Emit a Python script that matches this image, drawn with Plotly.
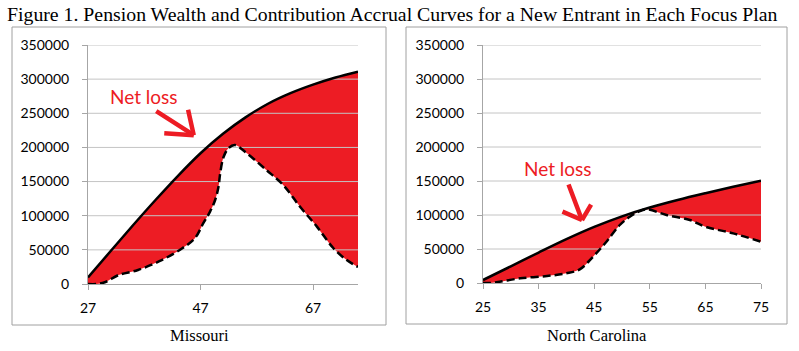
import plotly.graph_objects as go

# ---------------- data ----------------
title_text = "Figure 1. Pension Wealth and Contribution Accrual Curves for a New Entrant in Each Focus Plan"
panel_names = ["Missouri", "North Carolina"]

mo_age_w = [27, 31, 35, 39, 43, 47, 51, 55, 59, 63, 67, 71, 75]
mo_wealth = [9500, 48000, 86000, 123000, 158500, 191500, 220000, 244000, 264000, 279500, 292000, 302500, 311000]
mo_age_c = [27, 28.5, 30, 32.4, 35.9, 40.1, 43.7, 46, 47.5, 48.7, 49.6, 50.2, 50.5, 51.1, 52, 53.1, 55, 58.7, 61.7, 64.7, 67.7, 70.6, 73, 75]
mo_accrual = [0, 0, 2500, 13000, 20500, 35000, 52000, 67000, 89000, 106000, 123000, 142500, 162000, 186000, 199000, 203500, 193000, 167000, 145000, 113000, 84000, 52700, 35000, 25000]

nc_age_w = [25, 30, 35, 40, 45, 50, 55, 60, 65, 70, 75]
nc_wealth = [4400, 24500, 44800, 64500, 82500, 98000, 111000, 122000, 132000, 141500, 150500]
nc_age_c = [25, 26.3, 28, 31.7, 36.5, 40, 42.4, 44.8, 47.2, 49.6, 51.4, 53, 54.4, 58, 62.2, 65, 70, 75]
nc_accrual = [0, 0, 1900, 6900, 10300, 14200, 20100, 38700, 60700, 85300, 97500, 105000, 108400, 100000, 92600, 82800, 73000, 60700]

y_ticks = [0, 50000, 100000, 150000, 200000, 250000, 300000, 350000]
mo_xticks = [27, 47, 67]
nc_xticks = [25, 35, 45, 55, 65, 75]
mo_xrange = [27, 75]
nc_xrange = [25, 75]

RED = "#ED1C24"
GRID = "#c4c4c4"
AXIS = "#a6a6a6"
SM = 1.0

fig = go.Figure()

def add_panel(ax, ay, age_w, wealth, age_c, accrual, xr):
    # fill between curves
    fig.add_trace(go.Scatter(x=age_c, y=accrual, mode="lines", line=dict(width=0, color=RED, shape="spline", smoothing=SM),
                             xaxis=ax, yaxis=ay, showlegend=False, hoverinfo="skip"))
    fig.add_trace(go.Scatter(x=age_w, y=wealth, mode="lines", line=dict(width=0, color=RED, shape="spline", smoothing=SM),
                             fill="tonexty", fillcolor=RED,
                             xaxis=ax, yaxis=ay, showlegend=False, hoverinfo="skip"))
    # gridlines drawn over the fill
    gx, gy = [], []
    for t in y_ticks[1:]:
        gx += [xr[0], xr[1], None]
        gy += [t, t, None]
    fig.add_trace(go.Scatter(x=gx, y=gy, mode="lines", line=dict(width=1, color=GRID),
                             xaxis=ax, yaxis=ay, showlegend=False, hoverinfo="skip"))
    # curves
    fig.add_trace(go.Scatter(x=age_c, y=accrual, mode="lines",
                             line=dict(width=2.5, color="black", dash="8px,4px", shape="spline", smoothing=SM),
                             xaxis=ax, yaxis=ay, showlegend=False))
    fig.add_trace(go.Scatter(x=age_w, y=wealth, mode="lines",
                             line=dict(width=2.5, color="black", shape="spline", smoothing=SM),
                             xaxis=ax, yaxis=ay, showlegend=False))

add_panel("x", "y", mo_age_w, mo_wealth, mo_age_c, mo_accrual, mo_xrange)
add_panel("x2", "y2", nc_age_w, nc_wealth, nc_age_c, nc_accrual, nc_xrange)

W, H = 799, 351
def px(x): return x / W
def py(y): return 1 - y / H

tickfont = dict(family="Lato, Liberation Sans, sans-serif", size=14, color="#000000")
common_x = dict(showgrid=False, showline=True, linecolor=AXIS, linewidth=1, ticks="outside",
                ticklen=5, tickcolor=AXIS, tickfont=tickfont, zeroline=False, fixedrange=True,
                ticklabelstandoff=6, automargin=False)
common_y = dict(range=[0, 350000], tickvals=y_ticks, tickformat="d", showgrid=False,
                showline=True, linecolor=AXIS, linewidth=1, ticks="outside", ticklen=5,
                tickcolor=AXIS, tickfont=tickfont, zeroline=False, fixedrange=True,
                ticklabelstandoff=10, automargin=False)

fig.update_layout(
    width=W, height=H, margin=dict(l=0, r=0, t=0, b=0, autoexpand=False),
    paper_bgcolor="white", plot_bgcolor="white",
    xaxis=dict(domain=[px(88), px(358)], range=mo_xrange, tickvals=mo_xticks, anchor="y", **common_x),
    yaxis=dict(domain=[py(284), py(45)], anchor="x", **common_y),
    xaxis2=dict(domain=[px(483), px(761)], range=nc_xrange, tickvals=nc_xticks, anchor="y2", **common_x),
    yaxis2=dict(domain=[py(283), py(45)], anchor="x2", **common_y),
)

# panel boxes
for (x0, x1, y0, y1) in [(12, 386, 27, 325), (406, 787, 27, 324)]:
    fig.add_shape(type="rect", xref="paper", yref="paper", x0=px(x0), x1=px(x1), y0=py(y1), y1=py(y0),
                  line=dict(color="#a0a0a0", width=1), fillcolor="rgba(0,0,0,0)", layer="below")

serif = "Liberation Serif, Times New Roman, serif"
fig.add_annotation(text=title_text, xref="paper", yref="paper", x=px(5), y=py(14), xanchor="left",
                   yanchor="middle", showarrow=False, font=dict(family=serif, size=19.8, color="black"))
fig.add_annotation(text=panel_names[0], xref="paper", yref="paper", x=px(199), y=py(335), xanchor="center",
                   yanchor="middle", showarrow=False, font=dict(family=serif, size=16.5, color="black"))
fig.add_annotation(text=panel_names[1], xref="paper", yref="paper", x=px(597), y=py(335), xanchor="center",
                   yanchor="middle", showarrow=False, font=dict(family=serif, size=16.5, color="black"))

# "Net loss" labels and hand-drawn arrows
labfont = dict(family="Lato, Liberation Sans, sans-serif", size=19, color=RED)
fig.add_annotation(text="Net loss", xref="x", yref="y", x=37, y=274000, showarrow=False, font=labfont)
fig.add_annotation(text="Net loss", xref="x2", yref="y2", x=38.5, y=169000, showarrow=False, font=labfont)

def arrow(xr, yr, x, y, strokes):
    for ax_, ay_ in strokes:
        fig.add_annotation(text="", xref=xr, yref=yr, x=x, y=y, ax=ax_, ay=ay_, showarrow=True,
                           arrowhead=0, arrowwidth=4.5, arrowcolor=RED, standoff=0, startstandoff=0)

arrow("x", "y", 45.8, 218000, [(-39, -25), (-6, -27), (-31, -2)])
arrow("x2", "y2", 42.8, 92600, [(-14, -37), (10, -17), (-21, -9)])

fig.write_html("out.html")
